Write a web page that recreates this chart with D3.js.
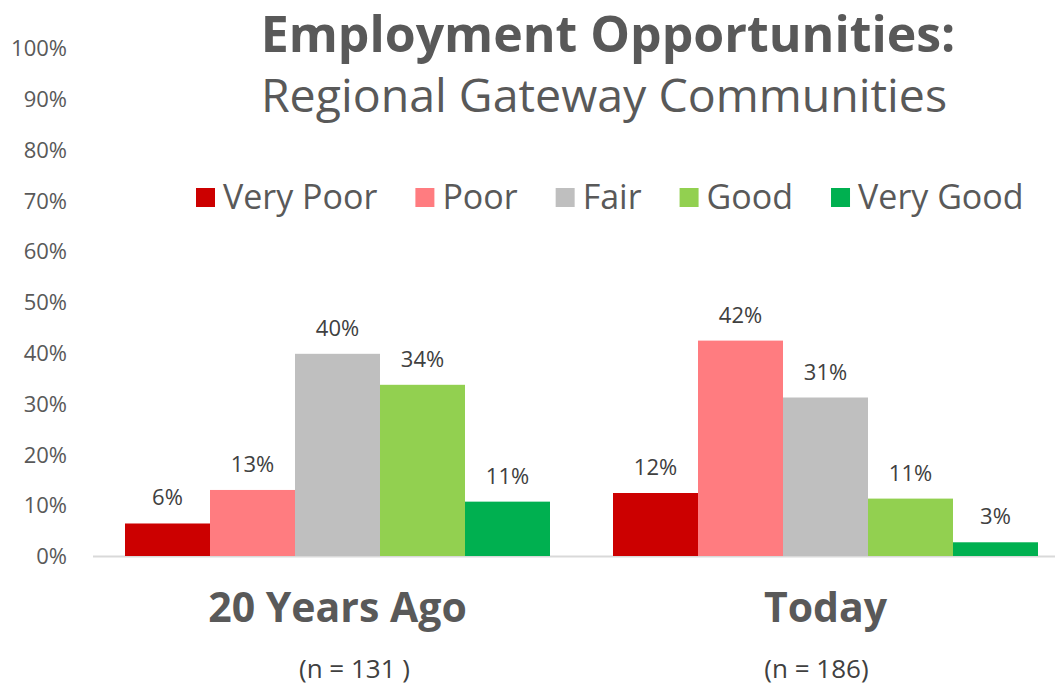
<!DOCTYPE html>
<html>
<head>
<meta charset="utf-8">
<script src="https://cdn.jsdelivr.net/npm/d3@7"></script>
<style>
  body { margin: 0; background: #fff; }
  text { font-family: "Open Sans", Lato, sans-serif; }
</style>
</head>
<body>
<div id="chart"></div>
<script>
// data
const periods = ["20 Years Ago", "Today"];
const sampleNotes = ["(n = 131 )", "(n = 186)"];
const ratings = ["Very Poor", "Poor", "Fair", "Good", "Very Good"];
const colors = ["#cc0000", "#ff7c80", "#bfbfbf", "#92d050", "#00b050"];
const yearsAgo = [6.4, 13, 39.8, 33.7, 10.7];
const today = [12.4, 42.4, 31.2, 11.3, 2.7];
const yTicks = [0, 10, 20, 30, 40, 50, 60, 70, 80, 90, 100];

const W = 1055, H = 687;
const svg = d3.select("#chart").append("svg")
    .attr("width", W)
    .attr("height", H);

// scales
let x0 = d3.scaleBand()
    .domain(periods)
    .range([93.5, 1069.5]);

// bars of one period sit in the middle of its band
let inset = 31.5;
let x1 = d3.scaleBand()
    .domain(ratings)
    .range([inset, x0.bandwidth() - inset]);

let y = d3.scaleLinear()
    .domain([0, 100])
    .range([556, 48]);

// y axis (labels only)
let yAxis = d3.axisLeft(y)
    .tickValues(yTicks)
    .tickSize(0)
    .tickPadding(0)
    .tickFormat(d => d + "%");

let gy = svg.append("g")
    .attr("transform", "translate(67,0)")
    .call(yAxis);
gy.select(".domain").remove();
gy.selectAll("text")
    .style("font-size", "22px")
    .style("font-family", "'Open Sans', sans-serif")
    .style("fill", "#595959")
    .attr("dy", "0.35em");

// baseline
svg.append("line")
    .attr("x1", 93).attr("x2", W)
    .attr("y1", y(0) + 0.5).attr("y2", y(0) + 0.5)
    .attr("stroke", "#d9d9d9")
    .attr("stroke-width", 2);

const seriesByPeriod = [yearsAgo, today];

let groups = svg.selectAll(".period")
    .data(periods)
    .enter().append("g")
    .attr("class", "period")
    .attr("transform", d => "translate(" + x0(d) + ",0)");

groups.selectAll("rect")
    .data((p, i) => ratings.map((r, j) => ({ rating: r, value: seriesByPeriod[i][j], color: colors[j] })))
    .enter().append("rect")
    .attr("x", d => x1(d.rating))
    .attr("y", d => y(d.value))
    .attr("width", x1.bandwidth())
    .attr("height", d => y(0) - y(d.value))
    .attr("fill", d => d.color);

groups.selectAll(".val")
    .data((p, i) => ratings.map((r, j) => ({ rating: r, value: seriesByPeriod[i][j] })))
    .enter().append("text")
    .attr("class", "val")
    .attr("x", d => x1(d.rating) + x1.bandwidth() / 2)
    .attr("y", d => y(d.value) - 18)
    .attr("text-anchor", "middle")
    .style("font-size", "22px")
    .style("fill", "#404040")
    .text(d => d3.format(".0f")(d.value) + "%");

// category labels
svg.selectAll(".cat")
    .data(periods)
    .enter().append("text")
    .attr("class", "cat")
    .attr("x", d => x0(d) + x0.bandwidth() / 2)
    .attr("y", 622)
    .attr("text-anchor", "middle")
    .style("font-size", "41px")
    .style("font-weight", "bold")
    .style("fill", "#595959")
    .text(d => d);

// the sample-size notes are not quite centred under the categories
const noteShift = [17, -9];
svg.selectAll(".note")
    .data(periods)
    .enter().append("text")
    .attr("class", "note")
    .attr("x", (d, i) => x0(d) + x0.bandwidth() / 2 + noteShift[i])
    .attr("y", 678)
    .attr("text-anchor", "middle")
    .style("font-size", "26px")
    .style("fill", "#404040")
    .text((d, i) => sampleNotes[i]);

// title
svg.append("text")
    .attr("x", 608)
    .attr("y", 52)
    .attr("text-anchor", "middle")
    .style("font-size", "50px")
    .style("font-weight", "bold")
    .style("fill", "#595959")
    .text("Employment Opportunities:");

svg.append("text")
    .attr("x", 604)
    .attr("y", 112)
    .attr("text-anchor", "middle")
    .style("font-size", "46.5px")
    .style("fill", "#595959")
    .text("Regional Gateway Communities");

// legend
let legend = svg.append("g").attr("class", "legend");
let lx = 196;
ratings.forEach((r, i) => {
    legend.append("rect")
        .attr("x", lx)
        .attr("y", 188)
        .attr("width", 19)
        .attr("height", 19)
        .attr("fill", colors[i]);
    let t = legend.append("text")
        .attr("x", lx + 27)
        .attr("y", 209)
        .style("font-size", "34px")
        .style("fill", "#595959")
        .text(r);
    lx += 27 + t.node().getComputedTextLength() + 38;
});
</script>
</body>
</html>
